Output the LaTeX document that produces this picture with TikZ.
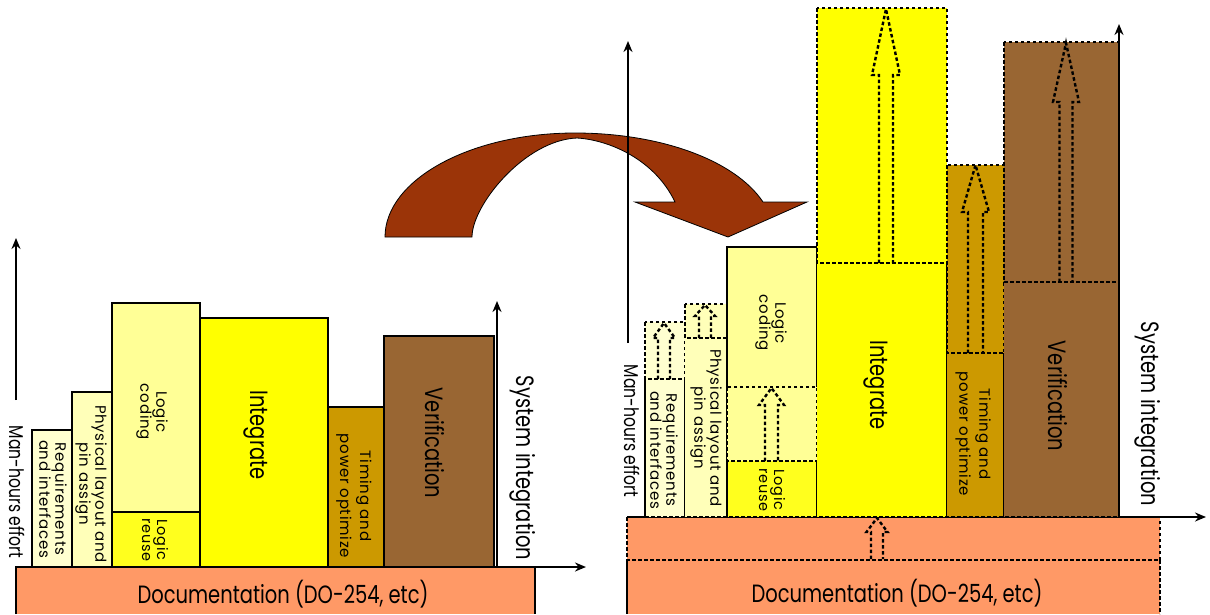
\documentclass[tikz,border=0pt]{standalone}
\usepackage{fontspec}
\setmainfont[FakeStretch=0.78]{Poppins}
\newfontfamily\smallfont[LetterSpace=5]{Poppins}
\usetikzlibrary{arrows.meta}

\definecolor{docfill}{RGB}{255,153,102}
\definecolor{reqfill}{RGB}{255,255,208}
\definecolor{physfill}{RGB}{255,255,185}
\definecolor{codefill}{RGB}{255,255,150}
\definecolor{reusefill}{RGB}{255,255,30}
\definecolor{intfill}{RGB}{255,255,0}
\definecolor{timefill}{RGB}{204,153,0}
\definecolor{verfill}{RGB}{153,102,51}
\definecolor{bigarrow}{RGB}{155,52,8}

\tikzset{
  bar/.style={draw=black, line width=1.3pt},
  growline/.style={draw=black, line width=2.4pt, dash pattern=on 3.5pt off 2.5pt},
  axis/.style={line width=1.8pt, -{Stealth[length=11pt,width=9pt]}},
  lbl/.style={rotate=-90, align=center, inner sep=0pt, font=\smallfont\fontsize{15}{16}\selectfont},
  timelbl/.style={lbl, font=\smallfont\fontsize{15}{20}\selectfont},
  reuselbl/.style={lbl, font=\smallfont\fontsize{14.5}{15}\selectfont},
  manlbl/.style={rotate=-90, inner sep=0pt, font=\fontsize{20}{22}\selectfont},
  biglbl/.style={rotate=-90, inner sep=0pt, font=\fontsize{25}{28}\selectfont},
  doclbl/.style={inner sep=0pt, font=\fontsize{25}{28}\selectfont},
}

% hollow dashed up arrow: centre x, foot y, tip y, half shaft, half head, head base y
\newcommand\growarrow[6]{%
  \draw[growline] (#1-#4,#2) -- (#1-#4,#6) -- (#1-#5,#6) -- (#1,#3)
    -- (#1+#5,#6) -- (#1+#4,#6) -- (#1+#4,#2);
}

\begin{document}
\begin{tikzpicture}[x=1pt, y=-1pt]
  \useasboundingbox (0,0) rectangle (1210,614);

  % ---------------- left chart (before) ----------------
  % documentation bar
  \fill[docfill] (16,567) rectangle (535,614);
  \draw[bar] (16,614) -- (16,567) -- (535,567) -- (535,614);
  \node[doclbl] (ldoc) at (283,594) {Documentation (DO-254, etc)};
  % activity bars
  \draw[bar, fill=reqfill] (32,430) rectangle (72,567);
  \draw[bar, fill=physfill] (72,392) rectangle (112,567);
  \draw[bar, fill=codefill] (112,303) rectangle (200,512);
  \draw[bar, fill=reusefill] (112,512) rectangle (200,567);
  \draw[bar, fill=intfill] (200,318) rectangle (328,567);
  \draw[bar, fill=timefill] (328,407) rectangle (384,567);
  \draw[bar, fill=verfill] (384,336) rectangle (494,567);
  \node[lbl] (lreq) at (53,499) {Requirements\\and interfaces};
  \node[lbl] (lphys) at (91,484) {Physical layout and\\pin assign};
  \node[lbl] (lcode) at (152,412) {Logic\\coding};
  \node[reuselbl] (lreuse) at (155,540) {Logic\\reuse};
  \node[biglbl] (lint) at (256,435) {Integrate};
  \node[timelbl] (ltime) at (354,496) {Timing and\\power optimize};
  \node[biglbl] (lver) at (435,443) {Verification};
  % axes
  \coordinate (lybase) at (16,400);
  \coordinate (lytip) at (16,238);
  \coordinate (lxbase) at (16,567);
  \coordinate (lxtip) at (586,567);
  \coordinate (lsbase) at (497,567);
  \coordinate (lstip) at (497,301);
  \draw[axis] (lybase) -- (lytip);
  \draw[axis] (lxbase) -- (lxtip);
  \draw[axis] (lsbase) -- (lstip);
  \node[manlbl] (lman) at (17,492) {Man-hours effort};
  \node[biglbl] (lsys) at (523,468) {System integration};

  % ---------------- curved arrow ----------------
  \draw[fill=bigarrow, line width=0.8pt] (385,237)
    .. controls (385,180) and (470,133) .. (575,133)
    .. controls (660,133) and (735,160) .. (763,202)
    -- (807,202) -- (728,237) -- (635,202) -- (675,202)
    .. controls (655,160) and (610,140) .. (577,138)
    .. controls (525,140) and (472,205) .. (472,237) -- cycle;

  % ---------------- right chart (after) ----------------
  % documentation bar with its dashed growth
  \fill[docfill] (627,517) rectangle (1160,614);
  \draw[bar] (627,560) -- (627,614);
  \draw[growline] (1160,560) -- (1160,614);
  \draw[growline] (627,517) rectangle (1160,560);
  \growarrow{877}{559}{518}{6}{10.5}{532}
  \node[doclbl] (rdoc) at (897,593) {Documentation (DO-254, etc)};
  % requirements
  \fill[reqfill] (645,322) rectangle (685,517);
  \draw[bar] (645,379) -- (645,517) (685,379) -- (685,517);
  \draw[growline] (645,322) rectangle (685,379);
  \growarrow{664}{379}{323}{6}{11}{338}
  % physical layout
  \fill[physfill] (685,304) rectangle (727,517);
  \draw[bar] (727,338) -- (727,517);
  \draw[growline] (685,304) rectangle (727,338);
  \growarrow{705}{338}{305}{6}{10}{316}
  % logic coding and reuse
  \fill[codefill] (727,247) rectangle (817,517);
  \fill[reusefill] (727,461) rectangle (817,517);
  \draw[bar] (727,387) -- (727,247) -- (817,247) -- (817,387);
  \draw[bar] (727,461) -- (727,517) (817,461) -- (817,517);
  \draw[growline] (727,387) rectangle (817,461);
  \growarrow{771.5}{461}{388}{6.5}{12.5}{405}
  % integrate
  \fill[intfill] (817,8) rectangle (947,517);
  \draw[bar] (947,263) -- (947,517);
  \draw[growline] (817,8) rectangle (947,263);
  \growarrow{886}{263}{9}{7}{14}{75}
  % timing
  \fill[timefill] (947,165) rectangle (1004,517);
  \draw[bar] (1004,353) -- (1004,517);
  \draw[growline] (947,165) rectangle (1004,353);
  \growarrow{975.5}{353}{165}{7.5}{13.5}{212}
  % verification
  \fill[verfill] (1004,42) rectangle (1119,517);
  \draw[growline] (1004,42) rectangle (1119,282);
  \growarrow{1066}{282}{43}{6.5}{13}{102}
  \draw[growline] (627,517) -- (1160,517);
  \node[lbl] (rreq) at (664,450) {Requirements\\and interfaces};
  \node[lbl] (rphys) at (706,428) {Physical layout and\\pin assign};
  \node[lbl] (rcode) at (771,323) {Logic\\coding};
  \node[reuselbl] (rreuse) at (772,490) {Logic\\reuse};
  \node[biglbl] (rint) at (876,385) {Integrate};
  \node[timelbl] (rtime) at (973,434) {Timing and\\power optimize};
  \node[biglbl] (rver) at (1058,396) {Verification};
  % axes
  \coordinate (rybase) at (628,343);
  \coordinate (rytip) at (628,41);
  \coordinate (rxbase) at (1160,517);
  \coordinate (rxtip) at (1206,517);
  \coordinate (rsbase) at (1119,517);
  \coordinate (rstip) at (1119,24);
  \draw[axis] (rybase) -- (rytip);
  \draw[axis] (rxbase) -- (rxtip);
  \draw[axis] (rsbase) -- (rstip);
  \node[manlbl] (rman) at (632,431) {Man-hours effort};
  \node[biglbl] (rsys) at (1148,414) {System integration};
\end{tikzpicture}
\end{document}
